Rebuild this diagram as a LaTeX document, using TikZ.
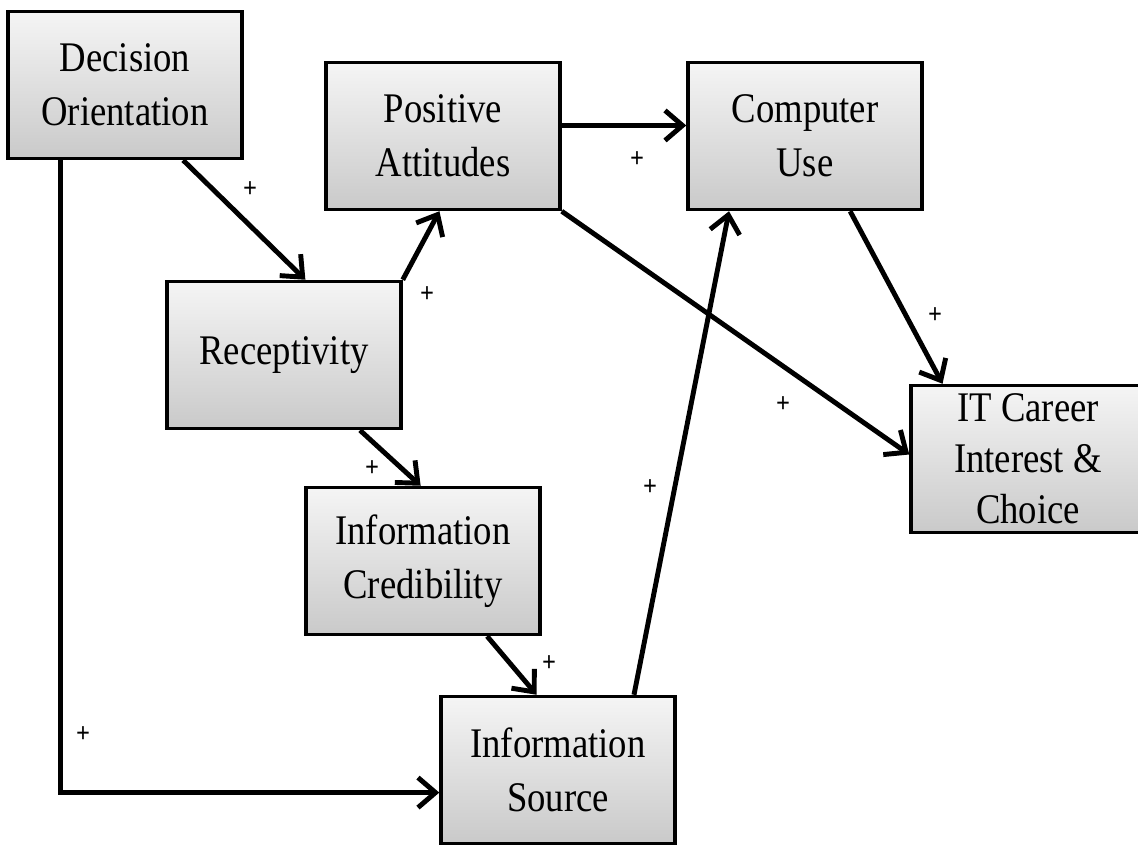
\documentclass[tikz,border=0pt]{standalone}
\usepackage{fontspec}
\setmainfont{Liberation Serif}[FakeStretch=0.87]
\usetikzlibrary{calc}
\usetikzlibrary{arrows.meta}
\tikzset{>={Straight Barb[length=3.5mm,width=6mm]}}
\tikzset{factor/.style = {shape=rectangle,draw,line width=2pt,top color=gray!8,bottom color=gray!42,minimum width=4.68cm,minimum height=2.94cm,inner sep=2pt,align=center,font=\fontsize{24}{31}\selectfont}}
\tikzset{link/.style = {->,line width=2.8pt}}
\tikzset{plus/.style = {font=\fontsize{16}{16}\selectfont\bfseries}}

\begin{document}
\begin{tikzpicture}[x=0.02cm,y=-0.02cm]
                \useasboundingbox (0,0) rectangle (1138,845);

                \node[factor] (DO) at (125,85) {Decision\\Orientation};
                \node[factor] (PA) at (443,136) {Positive\\Attitudes};
                \node[factor] (CU) at (805,136) {Computer\\Use};
                \node[factor] (R) at (284,355) {Receptivity};
                \node[factor,font=\fontsize{24}{29}\selectfont] (IT) at (1028,459) {IT Career\\Interest \&\\Choice};
                \node[factor] (IC) at (423,561) {Information\\Credibility};
                \node[factor] (IS) at (558,770) {Information\\Source};

                \draw[link] ($(DO.south west)!0.745!(DO.south east)$) -- ($(R.north west)!0.59!(R.north east)$);
                \draw[link] (R.north east) -- ($(PA.south west)!0.485!(PA.south east)$);
                \draw[link] ($(PA.north east)!0.43!(PA.south east)$) -- ($(CU.north west)!0.43!(CU.south west)$);
                \draw[link] (PA.south east) -- ($(IT.north west)!0.47!(IT.south west)$);
                \draw[link] ($(CU.south west)!0.69!(CU.south east)$) -- ($(IT.north west)!0.14!(IT.north east)$);
                \draw[link] ($(R.south west)!0.82!(R.south east)$) -- ($(IC.north west)!0.49!(IC.north east)$);
                \draw[link] ($(IC.south west)!0.77!(IC.south east)$) -- ($(IS.north west)!0.41!(IS.north east)$);
                \draw[link] ($(IS.north west)!0.82!(IS.north east)$) -- ($(CU.south west)!0.18!(CU.south east)$);
                \draw[link] ($(DO.south west)!0.23!(DO.south east)$) |- ($(IS.north west)!0.65!(IS.south west)$);

                \node[plus] (p1) at (250,190) {+};
                \node[plus] (p2) at (427,295) {+};
                \node[plus] (p3) at (637,160) {+};
                \node[plus] (p4) at (783,405) {+};
                \node[plus] (p5) at (935,316) {+};
                \node[plus] (p6) at (372,469) {+};
                \node[plus] (p7) at (549,664) {+};
                \node[plus] (p8) at (650,488) {+};
                \node[plus] (p9) at (83,735) {+};
            \end{tikzpicture}
\end{document}
